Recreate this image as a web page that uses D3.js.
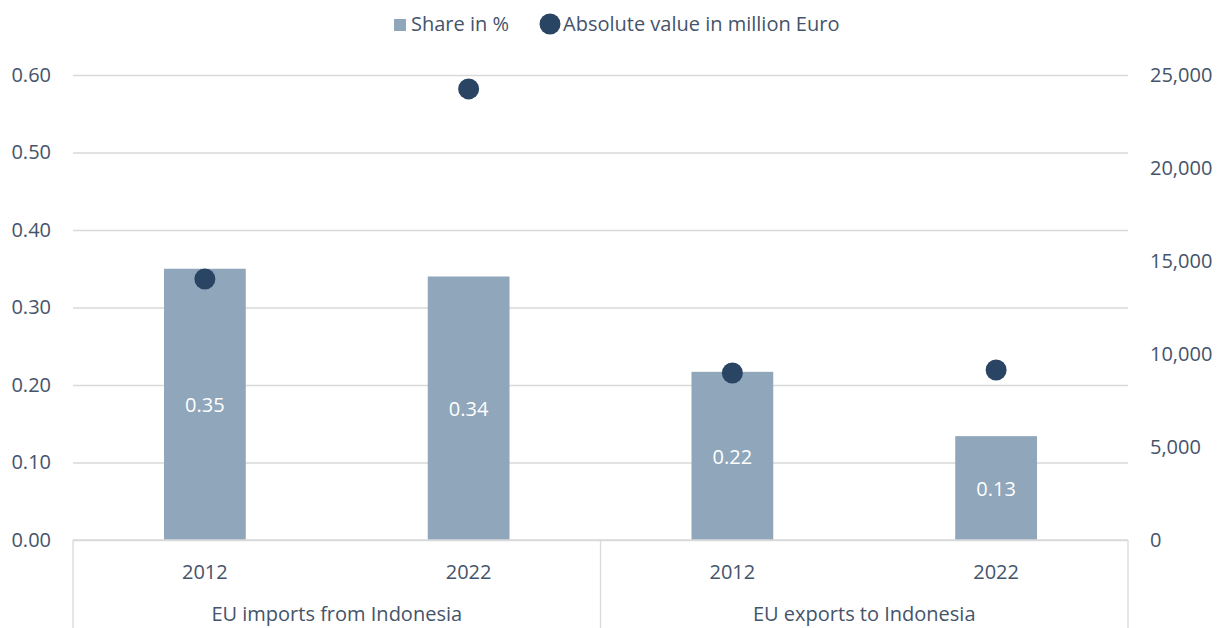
<!DOCTYPE html>
<html>
<head>
<meta charset="utf-8">
<title>EU trade with Indonesia</title>
<script src="https://cdn.jsdelivr.net/npm/d3@7"></script>
<style>
  body { margin: 0; background: #fff; }
  text { font-family: "Open Sans", "Noto Sans", sans-serif; fill: #44546a; }
</style>
</head>
<body>
<script>
// data
var groups = ["EU imports from Indonesia", "EU exports to Indonesia"];
var years = ["2012", "2022", "2012", "2022"];
var groupOf = [0, 0, 1, 1];
var share = [0.35, 0.34, 0.217, 0.134];          // share in %
var shareLabels = ["0.35", "0.34", "0.22", "0.13"];
var absValue = [14030, 24250, 8980, 9140];        // million Euro
var leftTicks = [0, 0.1, 0.2, 0.3, 0.4, 0.5, 0.6];
var rightTicks = [0, 5000, 10000, 15000, 20000, 25000];

var width = 1223, height = 628;
var mLeft = 73, mRight = 1128, mTop = 75, mBottom = 540;
var fs = "20px";

var svg = d3.select("body").append("svg")
    .attr("width", width)
    .attr("height", height);

var x = d3.scaleBand()
    .domain(d3.range(years.length))
    .range([mLeft, mRight])
    .padding(0);

var yL = d3.scaleLinear().domain([0, 0.6]).range([mBottom, mTop]);
var yR = d3.scaleLinear().domain([0, 25000]).range([mBottom, mTop]);

// gridlines + left axis
var axL = svg.append("g")
    .attr("transform", "translate(" + mLeft + ",0)")
    .call(d3.axisLeft(yL).tickValues(leftTicks)
        .tickSize(-(mRight - mLeft)).tickPadding(22)
        .tickFormat(d3.format(".2f")));
axL.select(".domain").remove();
axL.selectAll(".tick line").attr("stroke", "#d9d9d9").attr("stroke-width", 1.3);
axL.selectAll(".tick text").style("font-size", fs).attr("fill", "#44546a");

// right axis
var axR = svg.append("g")
    .attr("transform", "translate(" + mRight + ",0)")
    .call(d3.axisRight(yR).tickValues(rightTicks).tickSize(0).tickPadding(22)
        .tickFormat(d3.format(",")));
axR.select(".domain").remove();
axR.selectAll(".tick text").style("font-size", fs).attr("fill", "#44546a");

// bars
var barW = x.bandwidth() * 0.31;
svg.selectAll("rect.bar")
    .data(share)
    .enter().append("rect")
    .attr("class", "bar")
    .attr("x", function(d, i) { return x(i) + x.bandwidth() / 2 - barW / 2; })
    .attr("y", function(d) { return yL(d); })
    .attr("width", barW)
    .attr("height", function(d) { return yL(0) - yL(d); })
    .attr("fill", "#8fa6bb");

// bar labels
svg.selectAll("text.blab")
    .data(share)
    .enter().append("text")
    .attr("class", "blab")
    .attr("x", function(d, i) { return x(i) + x.bandwidth() / 2; })
    .attr("y", function(d) { return (yL(d) + yL(0)) / 2 + 1; })
    .attr("dy", "0.35em")
    .attr("text-anchor", "middle")
    .style("font-size", fs)
    .style("fill", "#ffffff")
    .text(function(d, i) { return shareLabels[i]; });

// dots
svg.selectAll("circle.dot")
    .data(absValue)
    .enter().append("circle")
    .attr("class", "dot")
    .attr("cx", function(d, i) { return x(i) + x.bandwidth() / 2; })
    .attr("cy", function(d) { return yR(d); })
    .attr("r", 10.5)
    .attr("fill", "#294563");

// category axis box
var boxColor = "#d9d9d9";
svg.append("line")
    .attr("x1", mLeft).attr("x2", mRight)
    .attr("y1", mBottom).attr("y2", mBottom)
    .attr("stroke", boxColor).attr("stroke-width", 1.3);
var dividers = [mLeft, x(2), mRight];
svg.selectAll("line.div")
    .data(dividers)
    .enter().append("line")
    .attr("class", "div")
    .attr("x1", function(d) { return d; }).attr("x2", function(d) { return d; })
    .attr("y1", mBottom).attr("y2", height)
    .attr("stroke", boxColor).attr("stroke-width", 1.3);

svg.selectAll("text.year")
    .data(years)
    .enter().append("text")
    .attr("class", "year")
    .attr("x", function(d, i) { return x(i) + x.bandwidth() / 2; })
    .attr("y", 572)
    .attr("dy", "0.35em")
    .attr("text-anchor", "middle")
    .style("font-size", fs)
    .text(function(d) { return d; });

svg.selectAll("text.grp")
    .data(groups)
    .enter().append("text")
    .attr("class", "grp")
    .attr("x", function(d, gi) {
        var idx = d3.range(years.length).filter(function(i) { return groupOf[i] === gi; });
        return (x(idx[0]) + x(idx[idx.length - 1]) + x.bandwidth()) / 2;
    })
    .attr("y", 614)
    .attr("dy", "0.35em")
    .attr("text-anchor", "middle")
    .style("font-size", fs)
    .text(function(d) { return d; });

// legend
var leg = svg.append("g");
leg.append("rect")
    .attr("x", 394).attr("y", 19).attr("width", 12).attr("height", 12)
    .attr("fill", "#8fa6bb");
leg.append("text")
    .attr("x", 411).attr("y", 24).attr("dy", "0.35em")
    .style("font-size", fs)
    .text("Share in %");
leg.append("circle")
    .attr("cx", 550).attr("cy", 24).attr("r", 10.5)
    .attr("fill", "#294563");
leg.append("text")
    .attr("x", 563).attr("y", 24).attr("dy", "0.35em")
    .style("font-size", fs)
    .text("Absolute value in million Euro");
</script>
</body>
</html>
